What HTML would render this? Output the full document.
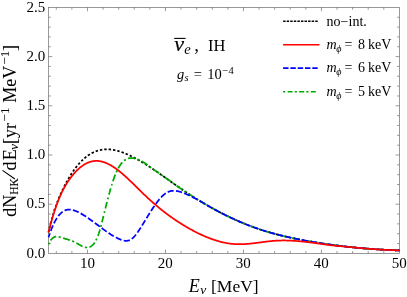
<!DOCTYPE html>
<html><head><meta charset="utf-8"><title>plot</title>
<style>
html,body{margin:0;padding:0;background:#fff;}
body{width:407px;height:297px;overflow:hidden;font-family:"Liberation Serif",serif;}
svg{display:block;}
text{font-family:"Liberation Serif",serif;fill:#000;}
.i{font-style:italic;}
</style></head><body>
<svg width="407" height="297" viewBox="0 0 407 297">
<rect width="407" height="297" fill="#fff"/>
<g fill="none" stroke="#6e6e6e" stroke-width="0.7">
<rect x="48.5" y="7.4" width="350.9" height="246.0"/>
<path d="M56.30 253.40 v-2.30 M56.30 7.40 v2.30"/><path d="M71.89 253.40 v-2.30 M71.89 7.40 v2.30"/><path d="M87.49 253.40 v-3.80 M87.49 7.40 v3.80"/><path d="M103.08 253.40 v-2.30 M103.08 7.40 v2.30"/><path d="M118.68 253.40 v-2.30 M118.68 7.40 v2.30"/><path d="M134.28 253.40 v-2.30 M134.28 7.40 v2.30"/><path d="M149.87 253.40 v-2.30 M149.87 7.40 v2.30"/><path d="M165.47 253.40 v-3.80 M165.47 7.40 v3.80"/><path d="M181.06 253.40 v-2.30 M181.06 7.40 v2.30"/><path d="M196.66 253.40 v-2.30 M196.66 7.40 v2.30"/><path d="M212.25 253.40 v-2.30 M212.25 7.40 v2.30"/><path d="M227.85 253.40 v-2.30 M227.85 7.40 v2.30"/><path d="M243.44 253.40 v-3.80 M243.44 7.40 v3.80"/><path d="M259.04 253.40 v-2.30 M259.04 7.40 v2.30"/><path d="M274.64 253.40 v-2.30 M274.64 7.40 v2.30"/><path d="M290.23 253.40 v-2.30 M290.23 7.40 v2.30"/><path d="M305.83 253.40 v-2.30 M305.83 7.40 v2.30"/><path d="M321.42 253.40 v-3.80 M321.42 7.40 v3.80"/><path d="M337.02 253.40 v-2.30 M337.02 7.40 v2.30"/><path d="M352.61 253.40 v-2.30 M352.61 7.40 v2.30"/><path d="M368.21 253.40 v-2.30 M368.21 7.40 v2.30"/><path d="M383.80 253.40 v-2.30 M383.80 7.40 v2.30"/><path d="M48.50 243.56 h2.30 M399.40 243.56 h-2.30"/><path d="M48.50 233.72 h2.30 M399.40 233.72 h-2.30"/><path d="M48.50 223.88 h2.30 M399.40 223.88 h-2.30"/><path d="M48.50 214.04 h2.30 M399.40 214.04 h-2.30"/><path d="M48.50 204.20 h3.80 M399.40 204.20 h-3.80"/><path d="M48.50 194.36 h2.30 M399.40 194.36 h-2.30"/><path d="M48.50 184.52 h2.30 M399.40 184.52 h-2.30"/><path d="M48.50 174.68 h2.30 M399.40 174.68 h-2.30"/><path d="M48.50 164.84 h2.30 M399.40 164.84 h-2.30"/><path d="M48.50 155.00 h3.80 M399.40 155.00 h-3.80"/><path d="M48.50 145.16 h2.30 M399.40 145.16 h-2.30"/><path d="M48.50 135.32 h2.30 M399.40 135.32 h-2.30"/><path d="M48.50 125.48 h2.30 M399.40 125.48 h-2.30"/><path d="M48.50 115.64 h2.30 M399.40 115.64 h-2.30"/><path d="M48.50 105.80 h3.80 M399.40 105.80 h-3.80"/><path d="M48.50 95.96 h2.30 M399.40 95.96 h-2.30"/><path d="M48.50 86.12 h2.30 M399.40 86.12 h-2.30"/><path d="M48.50 76.28 h2.30 M399.40 76.28 h-2.30"/><path d="M48.50 66.44 h2.30 M399.40 66.44 h-2.30"/><path d="M48.50 56.60 h3.80 M399.40 56.60 h-3.80"/><path d="M48.50 46.76 h2.30 M399.40 46.76 h-2.30"/><path d="M48.50 36.92 h2.30 M399.40 36.92 h-2.30"/><path d="M48.50 27.08 h2.30 M399.40 27.08 h-2.30"/><path d="M48.50 17.24 h2.30 M399.40 17.24 h-2.30"/>
</g>
<g fill="none" stroke-width="1.75" stroke-linejoin="round">
<path d="M48.50 232.40 L48.59 232.00 L48.68 231.60 L48.76 231.21 L48.85 230.81 L48.94 230.41 L49.03 230.02 M49.47 228.10 L49.55 227.72 L49.64 227.35 L49.73 226.98 L49.82 226.61 L49.90 226.24 L49.99 225.87 M50.52 223.72 L50.61 223.38 L50.69 223.03 L50.78 222.68 L50.87 222.34 L50.96 221.99 L51.04 221.65 M51.66 219.34 L51.75 219.02 L51.83 218.70 L51.92 218.37 L52.01 218.05 L52.10 217.74 L52.19 217.43 M52.80 215.29 L52.89 214.99 L52.98 214.69 L53.06 214.39 L53.15 214.10 L53.24 213.81 L53.33 213.52 L53.41 213.23 L53.50 212.94 M54.12 210.99 L54.20 210.71 L54.29 210.44 L54.38 210.17 L54.47 209.90 L54.55 209.63 L54.64 209.37 L54.73 209.10 L54.82 208.84 M55.52 206.78 L55.61 206.54 L55.70 206.29 L55.78 206.04 L55.87 205.79 L55.96 205.55 L56.05 205.30 L56.13 205.06 L56.22 204.82 M57.01 202.70 L57.10 202.47 L57.19 202.24 L57.27 202.02 L57.36 201.79 L57.45 201.56 L57.54 201.34 L57.63 201.12 L57.71 200.89 L57.80 200.67 M58.59 198.72 L58.68 198.51 L58.77 198.30 L58.85 198.09 L58.94 197.87 L59.03 197.66 L59.12 197.46 L59.21 197.25 L59.29 197.04 L59.38 196.84 L59.47 196.63 L59.56 196.42 M60.35 194.61 L60.43 194.41 L60.52 194.21 L60.61 194.01 L60.70 193.82 L60.78 193.62 L60.87 193.43 L60.96 193.23 L61.05 193.03 L61.14 192.84 L61.22 192.65 L61.31 192.46 M62.19 190.56 L62.28 190.37 L62.36 190.19 L62.45 190.00 L62.54 189.81 L62.63 189.63 L62.72 189.45 L62.80 189.26 L62.89 189.08 L62.98 188.90 L63.07 188.72 L63.15 188.54 M64.12 186.58 L64.21 186.41 L64.29 186.23 L64.38 186.06 L64.47 185.89 L64.56 185.71 L64.65 185.54 L64.73 185.37 L64.82 185.20 L64.91 185.03 L65.00 184.86 L65.08 184.69 L65.17 184.52 M66.14 182.70 L66.22 182.54 L66.31 182.38 L66.40 182.22 L66.49 182.06 L66.58 181.89 L66.66 181.73 L66.75 181.58 L66.84 181.42 L66.93 181.26 L67.01 181.10 L67.10 180.94 L67.19 180.79 L67.28 180.63 M68.24 178.94 L68.33 178.79 L68.42 178.64 L68.51 178.49 L68.59 178.34 L68.68 178.19 L68.77 178.04 L68.86 177.90 L68.95 177.75 L69.03 177.60 L69.12 177.45 L69.21 177.31 L69.30 177.16 L69.38 177.02 L69.47 176.87 M70.52 175.17 L70.61 175.03 L70.70 174.89 L70.79 174.76 L70.88 174.62 L70.96 174.48 L71.05 174.34 L71.14 174.21 L71.23 174.07 L71.31 173.94 L71.40 173.80 L71.49 173.67 L71.58 173.53 L71.67 173.40 L71.75 173.27 L71.84 173.14 M72.98 171.45 L73.07 171.32 L73.16 171.20 L73.24 171.07 L73.33 170.94 L73.42 170.82 L73.51 170.69 L73.60 170.57 L73.68 170.45 L73.77 170.32 L73.86 170.20 L73.95 170.08 L74.03 169.96 L74.12 169.83 L74.21 169.71 L74.30 169.59 M75.53 167.94 L75.61 167.83 L75.70 167.71 L75.79 167.60 L75.88 167.49 L75.96 167.37 L76.05 167.26 L76.14 167.15 L76.23 167.04 L76.32 166.93 L76.40 166.82 L76.49 166.70 L76.58 166.59 L76.67 166.48 L76.75 166.38 L76.84 166.27 L76.93 166.16 L77.02 166.05 M78.33 164.48 L78.42 164.37 L78.51 164.27 L78.60 164.17 L78.68 164.07 L78.77 163.97 L78.86 163.87 L78.95 163.77 L79.04 163.67 L79.12 163.57 L79.21 163.47 L79.30 163.38 L79.39 163.28 L79.47 163.18 L79.56 163.09 L79.65 162.99 L79.74 162.89 L79.83 162.80 L79.91 162.70 M81.32 161.23 L81.41 161.14 L81.49 161.06 L81.58 160.97 L81.67 160.88 L81.76 160.79 L81.84 160.71 L81.93 160.62 L82.02 160.53 L82.11 160.45 L82.19 160.36 L82.28 160.28 L82.37 160.19 L82.46 160.11 L82.55 160.03 L82.63 159.94 L82.72 159.86 L82.81 159.78 L82.90 159.69 L82.98 159.61 M84.48 158.28 L84.56 158.20 L84.65 158.12 L84.74 158.05 L84.83 157.98 L84.91 157.90 L85.00 157.83 L85.09 157.75 L85.18 157.68 L85.27 157.61 L85.35 157.54 L85.44 157.47 L85.53 157.39 L85.62 157.32 L85.70 157.25 L85.79 157.18 L85.88 157.11 L85.97 157.04 L86.06 156.97 L86.14 156.90 L86.23 156.83 L86.32 156.77 M87.99 155.54 L88.07 155.47 L88.16 155.41 L88.25 155.35 L88.34 155.29 L88.42 155.23 L88.51 155.17 L88.60 155.11 L88.69 155.05 L88.78 154.99 L88.86 154.94 L88.95 154.88 L89.04 154.82 L89.13 154.76 L89.21 154.71 L89.30 154.65 L89.39 154.59 L89.48 154.54 L89.57 154.48 L89.65 154.43 L89.74 154.37 L89.83 154.32 L89.92 154.26 M91.67 153.24 L91.85 153.15 L92.02 153.06 L92.20 152.96 L92.37 152.87 L92.55 152.78 L92.72 152.69 L92.90 152.61 L93.08 152.52 L93.25 152.44 L93.43 152.35 L93.60 152.27 L93.78 152.19 L93.87 152.15 M95.71 151.38 L95.88 151.31 L96.06 151.25 L96.23 151.18 L96.41 151.12 L96.59 151.06 L96.76 151.00 L96.94 150.94 L97.11 150.88 L97.29 150.82 L97.46 150.77 L97.64 150.71 L97.81 150.66 L97.99 150.61 M99.92 150.10 L100.10 150.06 L100.27 150.02 L100.45 149.99 L100.62 149.95 L100.80 149.91 L100.97 149.88 L101.15 149.85 L101.32 149.82 L101.50 149.79 L101.67 149.75 L101.85 149.73 L102.03 149.70 L102.20 149.67 L102.29 149.66 M104.22 149.44 L104.39 149.42 L104.57 149.41 L104.75 149.40 L104.92 149.39 L105.10 149.38 L105.27 149.37 L105.45 149.36 L105.62 149.35 L105.80 149.34 L105.97 149.34 L106.15 149.33 L106.33 149.33 L106.50 149.33 L106.68 149.33 M108.61 149.37 L108.78 149.37 L108.96 149.38 L109.13 149.39 L109.31 149.41 L109.48 149.42 L109.66 149.43 L109.84 149.45 L110.01 149.46 L110.19 149.48 L110.36 149.49 L110.54 149.51 L110.71 149.53 L110.89 149.55 L111.06 149.57 M112.99 149.84 L113.17 149.87 L113.34 149.90 L113.52 149.93 L113.70 149.96 L113.87 149.99 L114.05 150.03 L114.22 150.06 L114.40 150.09 L114.57 150.13 L114.75 150.16 L114.92 150.20 L115.10 150.24 L115.28 150.28 L115.36 150.30 M117.29 150.77 L117.47 150.81 L117.64 150.86 L117.82 150.91 L118.00 150.96 L118.17 151.01 L118.35 151.06 L118.52 151.11 L118.70 151.16 L118.87 151.21 L119.05 151.26 L119.22 151.31 L119.40 151.37 L119.58 151.42 M121.51 152.06 L121.68 152.12 L121.86 152.18 L122.03 152.24 L122.21 152.31 L122.38 152.37 L122.56 152.43 L122.73 152.50 L122.91 152.56 L123.08 152.63 L123.26 152.70 L123.44 152.76 L123.61 152.83 L123.79 152.90 M125.63 153.64 L125.81 153.71 L125.98 153.78 L126.16 153.86 L126.33 153.93 L126.51 154.01 L126.68 154.08 L126.86 154.16 L127.03 154.24 L127.21 154.31 L127.38 154.39 L127.56 154.47 L127.74 154.54 L127.82 154.58 M129.67 155.43 L129.84 155.51 L130.02 155.59 L130.19 155.68 L130.37 155.76 L130.54 155.85 L130.72 155.93 L130.89 156.01 L131.07 156.10 L131.25 156.19 L131.42 156.27 L131.60 156.36 L131.77 156.44 M133.61 157.38 L133.79 157.47 L133.97 157.56 L134.14 157.65 L134.32 157.74 L134.49 157.84 L134.67 157.93 L134.84 158.02 L135.02 158.11 L135.19 158.21 L135.37 158.30 L135.54 158.40 L135.72 158.49 M137.48 159.45 L137.65 159.55 L137.83 159.65 L138.00 159.75 L138.18 159.85 L138.35 159.95 L138.53 160.05 L138.70 160.15 L138.88 160.25 L139.05 160.35 L139.23 160.45 L139.41 160.55 L139.58 160.65 M141.25 161.62 L141.42 161.73 L141.60 161.83 L141.77 161.94 L141.95 162.04 L142.13 162.15 L142.30 162.25 L142.48 162.36 L142.65 162.47 L142.83 162.57 L143.00 162.68 L143.18 162.79 L143.35 162.89 M145.02 163.92 L145.11 163.98 L145.20 164.03 L145.28 164.09 L145.37 164.14 L145.46 164.20 L145.55 164.25 L145.64 164.31 L145.72 164.36 L145.81 164.42 L145.90 164.47 L145.99 164.53 L146.07 164.58 L146.16 164.64 L146.25 164.69 L146.34 164.75 L146.43 164.80 L146.51 164.86 L146.60 164.92 L146.69 164.97 L146.78 165.03 L146.86 165.08 L146.95 165.14 L147.04 165.19 M148.71 166.27 L148.79 166.32 L148.88 166.38 L148.97 166.44 L149.06 166.50 L149.15 166.55 L149.23 166.61 L149.32 166.67 L149.41 166.72 L149.50 166.78 L149.58 166.84 L149.67 166.90 L149.76 166.95 L149.85 167.01 L149.94 167.07 L150.02 167.13 L150.11 167.18 L150.20 167.24 L150.29 167.30 L150.37 167.36 L150.46 167.42 L150.55 167.47 L150.64 167.53 L150.73 167.59 M152.39 168.70 L152.48 168.76 L152.57 168.82 L152.66 168.88 L152.74 168.94 L152.83 168.99 L152.92 169.05 L153.01 169.11 L153.09 169.17 L153.18 169.23 L153.27 169.29 L153.36 169.35 L153.45 169.41 L153.53 169.47 L153.62 169.53 L153.71 169.59 L153.80 169.65 L153.88 169.71 L153.97 169.76 L154.06 169.82 L154.15 169.88 L154.24 169.94 L154.32 170.00 L154.41 170.06 M156.08 171.20 L156.17 171.26 L156.25 171.32 L156.34 171.38 L156.43 171.44 L156.52 171.50 L156.60 171.56 L156.69 171.63 L156.78 171.69 L156.87 171.75 L156.96 171.81 L157.04 171.87 L157.13 171.93 L157.22 171.99 L157.31 172.05 L157.39 172.11 L157.48 172.17 L157.57 172.23 L157.66 172.29 L157.74 172.35 L157.83 172.41 L157.92 172.48 L158.01 172.54 M159.68 173.70 L159.76 173.76 L159.85 173.82 L159.94 173.88 L160.03 173.94 L160.11 174.00 L160.20 174.07 L160.29 174.13 L160.38 174.19 L160.47 174.25 L160.55 174.31 L160.64 174.37 L160.73 174.44 L160.82 174.50 L160.90 174.56 L160.99 174.62 L161.08 174.68 L161.17 174.74 L161.25 174.81 L161.34 174.87 L161.43 174.93 L161.52 174.99 L161.61 175.05 M163.27 176.23 L163.36 176.29 L163.45 176.35 L163.54 176.42 L163.62 176.48 L163.71 176.54 L163.80 176.60 L163.89 176.66 L163.97 176.73 L164.06 176.79 L164.15 176.85 L164.24 176.91 L164.33 176.97 L164.41 177.04 L164.50 177.10 L164.59 177.16 L164.68 177.22 L164.76 177.29 L164.85 177.35 L164.94 177.41 L165.03 177.47 L165.12 177.53 L165.20 177.60 M166.87 178.78 L166.96 178.84 L167.05 178.91 L167.13 178.97 L167.22 179.03 L167.31 179.09 L167.40 179.16 L167.48 179.22 L167.57 179.28 L167.66 179.34 L167.75 179.41 L167.84 179.47 L167.92 179.53 L168.01 179.59 L168.10 179.66 L168.19 179.72 L168.27 179.78 L168.36 179.84 L168.45 179.91 L168.54 179.97 L168.63 180.03 L168.71 180.09 L168.80 180.15 M170.47 181.34 L170.56 181.40 L170.64 181.47 L170.73 181.53 L170.82 181.59 L170.91 181.65 L170.99 181.71 L171.08 181.78 L171.17 181.84 L171.26 181.90 L171.35 181.96 L171.43 182.03 L171.52 182.09 L171.61 182.15 L171.70 182.21 L171.78 182.28 L171.87 182.34 L171.96 182.40 L172.05 182.46 L172.14 182.52 L172.22 182.59 L172.31 182.65 L172.40 182.71 M174.07 183.89 L174.15 183.95 L174.24 184.01 L174.33 184.08 L174.42 184.14 L174.50 184.20 L174.59 184.26 L174.68 184.32 L174.77 184.39 L174.86 184.45 L174.94 184.51 L175.03 184.57 L175.12 184.63 L175.21 184.69 L175.29 184.76 L175.38 184.82 L175.47 184.88 L175.56 184.94 L175.65 185.00 L175.73 185.07 L175.82 185.13 L175.91 185.19 L176.00 185.25 M177.66 186.42 L177.75 186.48 L177.84 186.54 L177.93 186.60 L178.01 186.66 L178.10 186.72 L178.19 186.78 L178.28 186.84 L178.37 186.91 L178.45 186.97 L178.54 187.03 L178.63 187.09 L178.72 187.15 L178.80 187.21 L178.89 187.27 L178.98 187.33 L179.07 187.39 L179.16 187.45 L179.24 187.51 L179.33 187.58 L179.42 187.64 L179.51 187.70 L179.59 187.76 M181.26 188.90 L181.35 188.96 L181.44 189.02 L181.52 189.08 L181.61 189.14 L181.70 189.20 L181.79 189.26 L181.88 189.32 L181.96 189.38 L182.05 189.44 L182.14 189.50 L182.23 189.56 L182.31 189.62 L182.40 189.68 L182.49 189.74 L182.58 189.80 L182.67 189.86 L182.75 189.92 L182.84 189.98 L182.93 190.04 L183.02 190.10 L183.10 190.16 L183.19 190.22 M184.86 191.34 L184.95 191.40 L185.03 191.46 L185.12 191.52 L185.21 191.58 L185.30 191.64 L185.39 191.69 L185.47 191.75 L185.56 191.81 L185.65 191.87 L185.74 191.93 L185.82 191.99 L185.91 192.05 L186.00 192.10 L186.09 192.16 L186.17 192.22 L186.26 192.28 L186.35 192.34 L186.44 192.40 L186.53 192.45 L186.61 192.51 L186.70 192.57 L186.79 192.63 L186.88 192.69 M188.54 193.79 L188.63 193.84 L188.72 193.90 L188.81 193.96 L188.90 194.02 L188.98 194.07 L189.07 194.13 L189.16 194.19 L189.25 194.24 L189.33 194.30 L189.42 194.36 L189.51 194.42 L189.60 194.47 L189.68 194.53 L189.77 194.59 L189.86 194.65 L189.95 194.70 L190.04 194.76 L190.12 194.82 L190.21 194.87 L190.30 194.93 L190.39 194.99 L190.47 195.04 L190.56 195.10 M192.23 196.17 L192.32 196.23 L192.40 196.29 L192.49 196.34 L192.58 196.40 L192.67 196.45 L192.76 196.51 L192.84 196.57 L192.93 196.62 L193.02 196.68 L193.11 196.73 L193.19 196.79 L193.28 196.85 L193.37 196.90 L193.46 196.96 L193.55 197.01 L193.63 197.07 L193.72 197.12 L193.81 197.18 L193.90 197.24 L193.98 197.29 L194.07 197.35 L194.16 197.40 L194.25 197.46 M196.00 198.56 L196.09 198.62 L196.18 198.67 L196.27 198.73 L196.35 198.78 L196.44 198.84 L196.53 198.89 L196.62 198.94 L196.70 199.00 L196.79 199.05 L196.88 199.11 L196.97 199.16 L197.06 199.22 L197.14 199.27 L197.23 199.33 L197.32 199.38 L197.41 199.43 L197.49 199.49 L197.58 199.54 L197.67 199.60 L197.76 199.65 L197.85 199.71 L197.93 199.76 L198.02 199.81 M199.69 200.84 L199.86 200.94 L200.04 201.05 L200.21 201.16 L200.39 201.26 L200.57 201.37 L200.74 201.48 L200.92 201.58 L201.09 201.69 L201.27 201.79 L201.44 201.90 L201.62 202.01 L201.79 202.11 M203.46 203.11 L203.64 203.21 L203.81 203.31 L203.99 203.42 L204.16 203.52 L204.34 203.63 L204.51 203.73 L204.69 203.83 L204.87 203.93 L205.04 204.04 L205.22 204.14 L205.39 204.24 L205.57 204.35 M207.32 205.37 L207.41 205.42 L207.50 205.47 L207.59 205.52 L207.67 205.57 L207.76 205.62 L207.85 205.67 L207.94 205.72 L208.02 205.77 L208.11 205.82 L208.20 205.87 L208.29 205.92 L208.37 205.97 L208.46 206.02 L208.55 206.07 L208.64 206.12 L208.73 206.17 L208.81 206.22 L208.90 206.27 L208.99 206.32 L209.08 206.37 L209.16 206.42 L209.25 206.47 L209.34 206.52 M211.10 207.51 L211.27 207.61 L211.45 207.71 L211.62 207.81 L211.80 207.90 L211.97 208.00 L212.15 208.10 L212.32 208.20 L212.50 208.29 L212.67 208.39 L212.85 208.49 L213.03 208.59 L213.20 208.68 M214.96 209.64 L215.13 209.74 L215.31 209.83 L215.48 209.93 L215.66 210.02 L215.83 210.12 L216.01 210.21 L216.18 210.31 L216.36 210.40 L216.54 210.50 L216.71 210.59 L216.89 210.68 L217.06 210.78 M218.82 211.71 L218.99 211.80 L219.17 211.89 L219.34 211.99 L219.52 212.08 L219.69 212.17 L219.87 212.26 L220.05 212.35 L220.22 212.44 L220.40 212.53 L220.57 212.63 L220.75 212.72 L220.92 212.81 L221.01 212.85 M222.77 213.75 L222.94 213.84 L223.12 213.93 L223.29 214.02 L223.47 214.11 L223.64 214.20 L223.82 214.29 L223.99 214.37 L224.17 214.46 L224.34 214.55 L224.52 214.64 L224.70 214.73 L224.87 214.81 M226.71 215.72 L226.89 215.81 L227.07 215.90 L227.24 215.98 L227.42 216.07 L227.59 216.15 L227.77 216.24 L227.94 216.32 L228.12 216.41 L228.29 216.49 L228.47 216.58 L228.64 216.66 L228.82 216.75 M230.66 217.63 L230.84 217.71 L231.01 217.79 L231.19 217.87 L231.36 217.96 L231.54 218.04 L231.72 218.12 L231.89 218.20 L232.07 218.28 L232.24 218.37 L232.42 218.45 L232.59 218.53 L232.77 218.61 L232.86 218.65 M234.61 219.45 L234.79 219.53 L234.96 219.61 L235.14 219.69 L235.31 219.77 L235.49 219.85 L235.66 219.93 L235.84 220.01 L236.02 220.09 L236.19 220.17 L236.37 220.24 L236.54 220.32 L236.72 220.40 L236.80 220.44 M238.65 221.25 L238.82 221.32 L239.00 221.40 L239.17 221.48 L239.35 221.55 L239.53 221.63 L239.70 221.70 L239.88 221.78 L240.05 221.85 L240.23 221.93 L240.40 222.00 L240.58 222.08 L240.75 222.15 L240.84 222.19 M242.68 222.96 L242.86 223.04 L243.03 223.11 L243.21 223.18 L243.39 223.25 L243.56 223.33 L243.74 223.40 L243.91 223.47 L244.09 223.54 L244.26 223.61 L244.44 223.69 L244.61 223.76 L244.79 223.83 L244.97 223.90 M246.81 224.64 L246.98 224.71 L247.16 224.78 L247.33 224.84 L247.51 224.91 L247.69 224.98 L247.86 225.05 L248.04 225.12 L248.21 225.19 L248.39 225.26 L248.56 225.32 L248.74 225.39 L248.91 225.46 L249.00 225.49 M250.93 226.23 L251.11 226.29 L251.28 226.36 L251.46 226.42 L251.63 226.49 L251.81 226.55 L251.99 226.62 L252.16 226.68 L252.34 226.75 L252.51 226.81 L252.69 226.88 L252.86 226.94 L253.04 227.01 L253.13 227.04 M255.06 227.73 L255.23 227.79 L255.41 227.86 L255.58 227.92 L255.76 227.98 L255.93 228.04 L256.11 228.10 L256.28 228.16 L256.46 228.22 L256.64 228.29 L256.81 228.35 L256.99 228.41 L257.16 228.47 L257.34 228.53 M259.18 229.15 L259.36 229.21 L259.53 229.27 L259.71 229.33 L259.88 229.39 L260.06 229.44 L260.23 229.50 L260.41 229.56 L260.58 229.62 L260.76 229.68 L260.94 229.73 L261.11 229.79 L261.29 229.85 L261.46 229.90 M263.39 230.52 L263.57 230.58 L263.74 230.63 L263.92 230.69 L264.09 230.74 L264.27 230.80 L264.45 230.85 L264.62 230.90 L264.80 230.96 L264.97 231.01 L265.15 231.07 L265.32 231.12 L265.50 231.17 L265.67 231.23 M267.60 231.81 L267.78 231.86 L267.96 231.91 L268.13 231.96 L268.31 232.02 L268.48 232.07 L268.66 232.12 L268.83 232.17 L269.01 232.22 L269.18 232.27 L269.36 232.32 L269.53 232.37 L269.71 232.43 L269.89 232.48 M271.82 233.02 L271.99 233.07 L272.17 233.12 L272.34 233.17 L272.52 233.22 L272.69 233.27 L272.87 233.31 L273.04 233.36 L273.22 233.41 L273.40 233.46 L273.57 233.51 L273.75 233.56 L273.92 233.60 L274.10 233.65 M276.03 234.17 L276.20 234.21 L276.38 234.26 L276.55 234.30 L276.73 234.35 L276.91 234.40 L277.08 234.44 L277.26 234.49 L277.43 234.53 L277.61 234.58 L277.78 234.62 L277.96 234.67 L278.13 234.71 L278.31 234.76 L278.40 234.78 M280.33 235.27 L280.50 235.31 L280.68 235.35 L280.85 235.40 L281.03 235.44 L281.20 235.48 L281.38 235.53 L281.56 235.57 L281.73 235.61 L281.91 235.65 L282.08 235.70 L282.26 235.74 L282.43 235.78 L282.61 235.82 M284.63 236.30 L284.80 236.34 L284.98 236.39 L285.15 236.43 L285.33 236.47 L285.50 236.51 L285.68 236.55 L285.86 236.59 L286.03 236.63 L286.21 236.67 L286.38 236.71 L286.56 236.75 L286.73 236.79 L286.91 236.83 M288.84 237.26 L289.01 237.30 L289.19 237.34 L289.37 237.38 L289.54 237.42 L289.72 237.46 L289.89 237.49 L290.07 237.53 L290.24 237.57 L290.42 237.61 L290.59 237.65 L290.77 237.69 L290.94 237.72 L291.12 237.76 L291.21 237.78 M293.14 238.19 L293.31 238.23 L293.49 238.26 L293.66 238.30 L293.84 238.34 L294.02 238.37 L294.19 238.41 L294.37 238.45 L294.54 238.48 L294.72 238.52 L294.89 238.56 L295.07 238.59 L295.24 238.63 L295.42 238.66 L295.51 238.68 M297.53 239.09 L297.70 239.12 L297.88 239.16 L298.05 239.19 L298.23 239.23 L298.40 239.26 L298.58 239.30 L298.75 239.33 L298.93 239.37 L299.11 239.40 L299.28 239.44 L299.46 239.47 L299.63 239.50 L299.81 239.54 L299.89 239.55 M301.83 239.93 L302.00 239.96 L302.18 239.99 L302.35 240.03 L302.53 240.06 L302.70 240.09 L302.88 240.12 L303.05 240.16 L303.23 240.19 L303.40 240.22 L303.58 240.26 L303.76 240.29 L303.93 240.32 L304.11 240.35 L304.19 240.37 M306.13 240.73 L306.30 240.76 L306.48 240.79 L306.65 240.82 L306.83 240.85 L307.00 240.88 L307.18 240.92 L307.35 240.95 L307.53 240.98 L307.70 241.01 L307.88 241.04 L308.06 241.07 L308.23 241.10 L308.41 241.14 L308.49 241.15 M310.42 241.49 L310.60 241.52 L310.78 241.55 L310.95 241.58 L311.13 241.61 L311.30 241.64 L311.48 241.67 L311.65 241.70 L311.83 241.73 L312.00 241.76 L312.18 241.79 L312.36 241.82 L312.53 241.85 L312.71 241.88 L312.88 241.91 M314.81 242.24 L314.99 242.27 L315.16 242.30 L315.34 242.33 L315.51 242.36 L315.69 242.38 L315.86 242.41 L316.04 242.44 L316.22 242.47 L316.39 242.50 L316.57 242.53 L316.74 242.56 L316.92 242.59 L317.09 242.61 L317.18 242.63 M319.11 242.94 L319.29 242.97 L319.46 242.99 L319.64 243.02 L319.81 243.05 L319.99 243.08 L320.16 243.11 L320.34 243.13 L320.52 243.16 L320.69 243.19 L320.87 243.22 L321.04 243.24 L321.22 243.27 L321.39 243.30 L321.57 243.32 M323.50 243.62 L323.67 243.65 L323.85 243.67 L324.03 243.70 L324.20 243.73 L324.38 243.75 L324.55 243.78 L324.73 243.80 L324.90 243.83 L325.08 243.86 L325.25 243.88 L325.43 243.91 L325.60 243.93 L325.78 243.96 L325.87 243.97 M327.89 244.27 L328.06 244.29 L328.24 244.32 L328.41 244.34 L328.59 244.37 L328.76 244.39 L328.94 244.42 L329.11 244.44 L329.29 244.47 L329.47 244.49 L329.64 244.52 L329.82 244.54 L329.99 244.57 L330.17 244.59 L330.26 244.60 M332.19 244.87 L332.36 244.89 L332.54 244.92 L332.71 244.94 L332.89 244.97 L333.06 244.99 L333.24 245.01 L333.41 245.04 L333.59 245.06 L333.77 245.08 L333.94 245.11 L334.12 245.13 L334.29 245.15 L334.47 245.18 L334.56 245.19 M336.57 245.45 L336.75 245.47 L336.92 245.50 L337.10 245.52 L337.28 245.54 L337.45 245.56 L337.63 245.59 L337.80 245.61 L337.98 245.63 L338.15 245.65 L338.33 245.68 L338.50 245.70 L338.68 245.72 L338.85 245.74 L338.94 245.75 M340.96 246.00 L341.14 246.02 L341.31 246.04 L341.49 246.07 L341.66 246.09 L341.84 246.11 L342.01 246.13 L342.19 246.15 L342.36 246.17 L342.54 246.19 L342.72 246.21 L342.89 246.23 L343.07 246.25 L343.24 246.28 L343.33 246.29 M345.26 246.51 L345.44 246.53 L345.61 246.55 L345.79 246.57 L345.96 246.59 L346.14 246.61 L346.31 246.63 L346.49 246.65 L346.66 246.67 L346.84 246.69 L347.02 246.71 L347.19 246.73 L347.37 246.75 L347.54 246.77 L347.72 246.79 M349.65 247.00 L349.82 247.02 L350.00 247.03 L350.17 247.05 L350.35 247.07 L350.52 247.09 L350.70 247.11 L350.88 247.13 L351.05 247.15 L351.23 247.16 L351.40 247.18 L351.58 247.20 L351.75 247.22 L351.93 247.24 L352.10 247.26 M354.03 247.45 L354.21 247.47 L354.39 247.49 L354.56 247.50 L354.74 247.52 L354.91 247.54 L355.09 247.56 L355.26 247.57 L355.44 247.59 L355.61 247.61 L355.79 247.63 L355.97 247.64 L356.14 247.66 L356.32 247.68 L356.49 247.69 M358.42 247.88 L358.60 247.89 L358.77 247.91 L358.95 247.93 L359.12 247.94 L359.30 247.96 L359.48 247.97 L359.65 247.99 L359.83 248.01 L360.00 248.02 L360.18 248.04 L360.35 248.05 L360.53 248.07 L360.70 248.08 L360.79 248.09 M362.81 248.27 L362.99 248.28 L363.16 248.30 L363.34 248.32 L363.51 248.33 L363.69 248.34 L363.86 248.36 L364.04 248.37 L364.21 248.39 L364.39 248.40 L364.56 248.42 L364.74 248.43 L364.92 248.45 L365.09 248.46 L365.18 248.47 M367.20 248.63 L367.37 248.65 L367.55 248.66 L367.72 248.67 L367.90 248.69 L368.07 248.70 L368.25 248.72 L368.43 248.73 L368.60 248.74 L368.78 248.76 L368.95 248.77 L369.13 248.78 L369.30 248.80 L369.48 248.81 L369.57 248.82 M371.58 248.97 L371.76 248.98 L371.94 248.99 L372.11 249.00 L372.29 249.02 L372.46 249.03 L372.64 249.04 L372.81 249.05 L372.99 249.07 L373.16 249.08 L373.34 249.09 L373.51 249.10 L373.69 249.12 L373.87 249.13 L373.95 249.13 M375.97 249.27 L376.15 249.28 L376.32 249.29 L376.50 249.30 L376.67 249.32 L376.85 249.33 L377.02 249.34 L377.20 249.35 L377.38 249.36 L377.55 249.37 L377.73 249.38 L377.90 249.39 L378.08 249.40 L378.25 249.42 L378.34 249.42 M380.36 249.54 L380.53 249.55 L380.71 249.56 L380.89 249.57 L381.06 249.58 L381.24 249.59 L381.41 249.60 L381.59 249.61 L381.76 249.62 L381.94 249.63 L382.11 249.64 L382.29 249.65 L382.46 249.66 L382.64 249.67 L382.82 249.68 M384.75 249.79 L384.92 249.80 L385.10 249.81 L385.27 249.82 L385.45 249.82 L385.62 249.83 L385.80 249.84 L385.97 249.85 L386.15 249.86 L386.33 249.87 L386.50 249.88 L386.68 249.89 L386.85 249.90 L387.03 249.90 L387.20 249.91 M389.13 250.00 L389.31 250.01 L389.48 250.02 L389.66 250.03 L389.84 250.04 L390.01 250.04 L390.19 250.05 L390.36 250.06 L390.54 250.07 L390.71 250.08 L390.89 250.08 L391.06 250.09 L391.24 250.10 L391.42 250.11 L391.59 250.11 M393.52 250.19 L393.70 250.20 L393.87 250.21 L394.05 250.21 L394.22 250.22 L394.40 250.23 L394.57 250.23 L394.75 250.24 L394.92 250.25 L395.10 250.25 L395.28 250.26 L395.45 250.27 L395.63 250.27 L395.80 250.28 L395.98 250.28 M397.91 250.35 L398.00 250.35 L398.08 250.36 L398.17 250.36 L398.26 250.36 L398.35 250.37 L398.43 250.37 L398.52 250.37 L398.61 250.37 L398.70 250.38 L398.79 250.38 L398.87 250.38 L398.96 250.39 L399.05 250.39 L399.14 250.39 L399.22 250.39 L399.31 250.40 L399.40 250.40" stroke="#000"/>
<path d="M48.50 244.30 L48.59 244.11 L48.68 243.92 L48.76 243.74 L48.85 243.55 L48.94 243.36 L49.03 243.18 L49.11 243.01 L49.20 242.84 L49.29 242.67 M50.61 240.43 L51.04 239.82 L51.48 239.27 L51.92 238.78 L52.36 238.35 L52.80 237.98 L53.24 237.65 L53.68 237.37 L54.12 237.13 L54.55 236.94 L54.99 236.79 L55.43 236.68 L55.87 236.60 L56.22 236.57 M58.68 236.78 L58.77 236.80 L58.85 236.82 L58.94 236.84 L59.03 236.86 L59.12 236.88 L59.21 236.91 L59.29 236.93 L59.38 236.95 L59.47 236.98 L59.56 237.00 L59.64 237.03 L59.73 237.05 L59.82 237.08 L59.91 237.10 L59.99 237.13 L60.08 237.16 L60.17 237.18 L60.26 237.21 L60.35 237.24 L60.43 237.27 L60.52 237.29 L60.61 237.32 L60.70 237.35 M63.07 238.12 L63.59 238.28 L64.12 238.43 L64.65 238.59 L65.17 238.74 L65.70 238.89 L66.22 239.04 L66.75 239.19 L67.28 239.35 L67.80 239.50 L68.33 239.66 L68.86 239.82 L69.38 239.99 L69.91 240.16 M72.19 240.98 L72.28 241.02 L72.37 241.05 L72.45 241.09 L72.54 241.12 L72.63 241.16 L72.72 241.20 L72.81 241.23 L72.89 241.27 L72.98 241.31 L73.07 241.34 L73.16 241.38 L73.24 241.42 L73.33 241.46 L73.42 241.50 L73.51 241.53 L73.60 241.57 L73.68 241.61 L73.77 241.65 L73.86 241.69 L73.95 241.73 L74.03 241.77 L74.12 241.81 M76.40 243.00 L76.84 243.25 L77.28 243.51 L77.72 243.76 L78.16 244.02 L78.60 244.28 L79.04 244.54 L79.47 244.79 L79.91 245.04 L80.35 245.29 L80.79 245.53 L81.23 245.76 L81.67 245.99 L82.11 246.20 L82.55 246.40 M84.91 247.24 L85.09 247.29 L85.27 247.33 L85.44 247.36 L85.62 247.40 L85.79 247.42 L85.97 247.45 L86.14 247.47 L86.32 247.49 L86.49 247.50 L86.67 247.52 L86.85 247.52 L87.02 247.52 M89.48 247.09 L89.83 246.95 L90.18 246.79 L90.53 246.61 L90.88 246.40 L91.23 246.17 L91.58 245.91 L91.93 245.63 L92.29 245.33 L92.64 245.00 L92.99 244.64 L93.34 244.25 L93.69 243.84 L94.04 243.39 L94.39 242.91 L94.65 242.54 M95.97 240.33 L96.06 240.16 L96.15 240.00 L96.23 239.83 L96.32 239.65 L96.41 239.47 L96.50 239.29 L96.59 239.10 L96.67 238.92 L96.76 238.73 L96.85 238.53 M97.90 235.99 L98.08 235.52 L98.25 235.04 L98.43 234.53 L98.60 234.03 L98.78 233.51 L98.95 232.96 L99.13 232.42 L99.31 231.85 L99.48 231.27 L99.66 230.70 L99.83 230.09 L100.01 229.48 M100.71 226.97 L100.80 226.64 L100.88 226.31 L100.97 225.98 L101.06 225.65 L101.15 225.32 L101.24 224.99 M101.94 222.26 L102.03 221.91 L102.11 221.57 L102.20 221.22 L102.29 220.87 L102.38 220.52 L102.46 220.17 L102.55 219.82 L102.64 219.46 L102.73 219.11 L102.82 218.76 L102.90 218.40 L102.99 218.05 L103.08 217.69 L103.17 217.34 L103.25 216.98 L103.34 216.63 L103.43 216.27 L103.52 215.92 M104.22 213.07 L104.31 212.72 L104.39 212.36 L104.48 212.01 L104.57 211.65 L104.66 211.30 M105.36 208.48 L105.45 208.13 L105.54 207.78 L105.62 207.42 L105.71 207.07 L105.80 206.72 L105.89 206.37 L105.97 206.03 L106.06 205.68 L106.15 205.33 L106.24 204.98 L106.33 204.63 L106.41 204.29 L106.50 203.94 L106.59 203.60 L106.68 203.25 L106.76 202.91 L106.85 202.56 L106.94 202.22 L107.03 201.88 M107.73 199.16 L107.82 198.83 L107.90 198.49 L107.99 198.16 L108.08 197.83 L108.17 197.49 M108.87 194.86 L108.96 194.54 L109.05 194.22 L109.13 193.89 L109.22 193.57 L109.31 193.25 L109.40 192.93 L109.48 192.61 L109.57 192.29 L109.66 191.98 L109.75 191.66 L109.84 191.35 L109.92 191.04 L110.01 190.72 L110.10 190.41 L110.19 190.10 L110.27 189.79 L110.36 189.49 L110.45 189.18 L110.54 188.88 L110.62 188.57 L110.71 188.27 M111.50 185.61 L111.59 185.32 L111.68 185.03 L111.77 184.74 L111.85 184.46 L111.94 184.18 L112.03 183.90 M112.91 181.17 L113.08 180.65 L113.26 180.12 L113.43 179.61 L113.61 179.11 L113.78 178.60 L113.96 178.12 L114.13 177.63 L114.31 177.15 L114.49 176.69 L114.66 176.22 L114.84 175.76 L115.01 175.32 L115.19 174.88 L115.28 174.65 M116.24 172.37 L116.33 172.18 L116.42 171.98 L116.50 171.79 L116.59 171.60 L116.68 171.41 L116.77 171.21 L116.85 171.03 L116.94 170.85 L117.03 170.66 L117.12 170.48 M118.26 168.25 L118.52 167.78 L118.79 167.31 L119.05 166.87 L119.31 166.43 L119.58 166.01 L119.84 165.60 L120.10 165.20 L120.36 164.82 L120.63 164.45 L120.89 164.09 L121.15 163.74 L121.42 163.41 L121.68 163.09 L121.94 162.78 L122.21 162.48 L122.30 162.38 M124.05 160.70 L124.14 160.63 L124.23 160.56 L124.31 160.48 L124.40 160.42 L124.49 160.35 L124.58 160.29 L124.66 160.22 L124.75 160.15 L124.84 160.09 L124.93 160.03 L125.02 159.97 L125.10 159.91 L125.19 159.85 L125.28 159.79 L125.37 159.74 L125.45 159.68 L125.54 159.63 L125.63 159.58 L125.72 159.52 L125.81 159.47 M128.09 158.48 L128.61 158.34 L129.14 158.22 L129.67 158.14 L130.19 158.08 L130.72 158.05 L131.25 158.04 L131.77 158.06 L132.30 158.09 L132.82 158.15 L133.35 158.23 L133.88 158.32 L134.40 158.43 L134.93 158.56 L135.11 158.60 M137.48 159.34 L137.56 159.37 L137.65 159.40 L137.74 159.44 L137.83 159.47 L137.91 159.50 L138.00 159.53 L138.09 159.57 L138.18 159.60 L138.27 159.64 L138.35 159.67 L138.44 159.70 L138.53 159.74 L138.62 159.77 L138.70 159.81 L138.79 159.84 L138.88 159.88 L138.97 159.92 L139.05 159.95 L139.14 159.99 L139.23 160.03 L139.32 160.06 L139.41 160.10 M141.69 161.19 L142.13 161.43 L142.56 161.68 L143.00 161.94 L143.44 162.21 L143.88 162.49 L144.32 162.78 L144.76 163.08 L145.20 163.38 L145.64 163.69 L146.07 164.00 L146.51 164.32 L146.95 164.65 L147.39 164.97 L147.57 165.10 M149.58 166.62 L149.67 166.68 L149.76 166.75 L149.85 166.81 L149.94 166.88 L150.02 166.95 L150.11 167.01 L150.20 167.08 L150.29 167.14 L150.37 167.21 L150.46 167.27 L150.55 167.34 L150.64 167.40 L150.73 167.46 L150.81 167.53 L150.90 167.59 L150.99 167.66 L151.08 167.72 L151.16 167.79 L151.25 167.85 M153.27 169.28 L153.71 169.59 L154.15 169.88 L154.59 170.18 L155.02 170.48 L155.46 170.78 L155.90 171.08 L156.34 171.38 L156.78 171.69 L157.22 171.99 L157.66 172.29 L158.10 172.60 L158.53 172.90 L158.97 173.21 L159.15 173.33 M161.17 174.74 L161.25 174.81 L161.34 174.87 L161.43 174.93 L161.52 174.99 L161.61 175.05 L161.69 175.11 L161.78 175.18 L161.87 175.24 L161.96 175.30 L162.04 175.36 L162.13 175.42 L162.22 175.49 L162.31 175.55 L162.40 175.61 L162.48 175.67 L162.57 175.73 L162.66 175.79 L162.75 175.86 L162.83 175.92 L162.92 175.98 M164.94 177.41 L165.38 177.72 L165.82 178.03 L166.26 178.34 L166.70 178.66 L167.13 178.97 L167.57 179.28 L168.01 179.59 L168.45 179.91 L168.89 180.22 L169.33 180.53 L169.77 180.84 L170.21 181.15 L170.64 181.47 L170.73 181.53 M172.75 182.96 L172.84 183.02 L172.93 183.08 L173.01 183.15 L173.10 183.21 L173.19 183.27 L173.28 183.33 L173.36 183.39 L173.45 183.46 L173.54 183.52 L173.63 183.58 L173.71 183.64 L173.80 183.70 L173.89 183.77 L173.98 183.83 L174.07 183.89 L174.15 183.95 L174.24 184.01 L174.33 184.08 L174.42 184.14 L174.50 184.20 M176.52 185.62 L176.96 185.93 L177.40 186.23 L177.84 186.54 L178.28 186.84 L178.72 187.15 L179.16 187.45 L179.59 187.76 L180.03 188.06 L180.47 188.36 L180.91 188.66 L181.35 188.96 L181.79 189.26 L182.23 189.56 L182.40 189.68 M184.42 191.05 L184.51 191.11 L184.60 191.17 L184.68 191.22 L184.77 191.28 L184.86 191.34 L184.95 191.40 L185.03 191.46 L185.12 191.52 L185.21 191.58 L185.30 191.64 L185.39 191.69 L185.47 191.75 L185.56 191.81 L185.65 191.87 L185.74 191.93 L185.82 191.99 L185.91 192.05 L186.00 192.10 L186.09 192.16 L186.17 192.22 M188.28 193.61 L188.72 193.90 L189.16 194.19 L189.60 194.47 L190.04 194.76 L190.47 195.04 L190.91 195.33 L191.35 195.61 L191.79 195.89 L192.23 196.17 L192.67 196.45 L193.11 196.73 L193.55 197.01 L193.98 197.29 L194.25 197.46 M196.35 198.78 L196.44 198.84 L196.53 198.89 L196.62 198.94 L196.70 199.00 L196.79 199.05 L196.88 199.11 L196.97 199.16 L197.06 199.22 L197.14 199.27 L197.23 199.33 L197.32 199.38 L197.41 199.43 L197.49 199.49 L197.58 199.54 L197.67 199.60 L197.76 199.65 L197.85 199.71 L197.93 199.76 L198.02 199.81 L198.11 199.87 L198.20 199.92 M200.30 201.21 L200.74 201.48 L201.18 201.74 L201.62 202.01 L202.06 202.27 L202.50 202.53 L202.93 202.79 L203.37 203.05 L203.81 203.31 L204.25 203.57 L204.69 203.83 L205.13 204.09 L205.57 204.35 L206.01 204.60 L206.36 204.81 M208.55 206.07 L208.64 206.12 L208.73 206.17 L208.81 206.22 L208.90 206.27 L208.99 206.32 L209.08 206.37 L209.16 206.42 L209.25 206.47 L209.34 206.52 L209.43 206.57 L209.52 206.62 L209.60 206.67 L209.69 206.72 L209.78 206.77 L209.87 206.82 L209.95 206.87 L210.04 206.92 L210.13 206.97 L210.22 207.02 L210.31 207.07 L210.39 207.12 M212.59 208.34 L213.03 208.59 L213.46 208.83 L213.90 209.07 L214.34 209.31 L214.78 209.55 L215.22 209.79 L215.66 210.02 L216.10 210.26 L216.54 210.50 L216.97 210.73 L217.41 210.97 L217.85 211.20 L218.29 211.43 L218.73 211.66 L218.82 211.71 M221.01 212.85 L221.10 212.90 L221.19 212.94 L221.27 212.99 L221.36 213.03 L221.45 213.08 L221.54 213.12 L221.62 213.17 L221.71 213.21 L221.80 213.26 L221.89 213.30 L221.98 213.35 L222.06 213.39 L222.15 213.44 L222.24 213.48 L222.33 213.53 L222.41 213.57 L222.50 213.62 L222.59 213.66 L222.68 213.71 L222.77 213.75 L222.85 213.80 L222.94 213.84 M225.13 214.94 L225.66 215.21 L226.19 215.47 L226.71 215.72 L227.24 215.98 L227.77 216.24 L228.29 216.49 L228.82 216.75 L229.35 217.00 L229.87 217.25 L230.40 217.50 L230.93 217.75 L231.45 218.00 L231.54 218.04 M233.82 219.09 L233.91 219.13 L234.00 219.17 L234.08 219.22 L234.17 219.26 L234.26 219.30 L234.35 219.34 L234.44 219.37 L234.52 219.41 L234.61 219.45 L234.70 219.49 L234.79 219.53 L234.87 219.57 L234.96 219.61 L235.05 219.65 L235.14 219.69 L235.23 219.73 L235.31 219.77 L235.40 219.81 L235.49 219.85 L235.58 219.89 L235.66 219.93 L235.75 219.97 M238.03 220.98 L238.56 221.21 L239.09 221.44 L239.61 221.67 L240.14 221.89 L240.67 222.12 L241.19 222.34 L241.72 222.56 L242.25 222.78 L242.77 223.00 L243.30 223.22 L243.82 223.44 L244.35 223.65 L244.53 223.72 M246.81 224.64 L246.90 224.67 L246.98 224.71 L247.07 224.74 L247.16 224.78 L247.25 224.81 L247.33 224.84 L247.42 224.88 L247.51 224.91 L247.60 224.95 L247.69 224.98 L247.77 225.02 L247.86 225.05 L247.95 225.08 L248.04 225.12 L248.12 225.15 L248.21 225.19 L248.30 225.22 L248.39 225.26 L248.48 225.29 L248.56 225.32 L248.65 225.36 L248.74 225.39 L248.83 225.42 M251.11 226.29 L251.63 226.49 L252.16 226.68 L252.69 226.88 L253.21 227.07 L253.74 227.26 L254.27 227.45 L254.79 227.64 L255.32 227.82 L255.85 228.01 L256.37 228.19 L256.90 228.38 L257.43 228.56 L257.86 228.71 M260.23 229.50 L260.32 229.53 L260.41 229.56 L260.50 229.59 L260.58 229.62 L260.67 229.65 L260.76 229.68 L260.85 229.70 L260.94 229.73 L261.02 229.76 L261.11 229.79 L261.20 229.82 L261.29 229.85 L261.37 229.88 L261.46 229.90 L261.55 229.93 L261.64 229.96 L261.73 229.99 L261.81 230.02 L261.90 230.05 L261.99 230.07 L262.08 230.10 L262.16 230.13 M264.62 230.90 L265.15 231.07 L265.67 231.23 L266.20 231.39 L266.73 231.55 L267.25 231.70 L267.78 231.86 L268.31 232.02 L268.83 232.17 L269.36 232.32 L269.89 232.48 L270.41 232.63 L270.94 232.78 L271.38 232.90 M273.83 233.58 L273.92 233.60 L274.01 233.63 L274.10 233.65 L274.19 233.67 L274.27 233.70 L274.36 233.72 L274.45 233.75 L274.54 233.77 L274.62 233.79 L274.71 233.82 L274.80 233.84 L274.89 233.86 L274.97 233.89 L275.06 233.91 L275.15 233.93 L275.24 233.96 L275.33 233.98 L275.41 234.00 L275.50 234.03 L275.59 234.05 L275.68 234.07 L275.76 234.10 L275.85 234.12 M278.22 234.74 L278.75 234.87 L279.27 235.00 L279.80 235.13 L280.33 235.27 L280.85 235.40 L281.38 235.53 L281.91 235.65 L282.43 235.78 L282.96 235.91 L283.49 236.03 L284.01 236.16 L284.54 236.28 L285.07 236.41 L285.15 236.43 M287.61 236.99 L287.70 237.01 L287.79 237.03 L287.87 237.05 L287.96 237.07 L288.05 237.09 L288.14 237.11 L288.22 237.13 L288.31 237.15 L288.40 237.17 L288.49 237.19 L288.58 237.20 L288.66 237.22 L288.75 237.24 L288.84 237.26 L288.93 237.28 L289.01 237.30 L289.10 237.32 L289.19 237.34 L289.28 237.36 L289.37 237.38 L289.45 237.40 L289.54 237.42 L289.63 237.44 M292.09 237.97 L292.61 238.08 L293.14 238.19 L293.66 238.30 L294.19 238.41 L294.72 238.52 L295.24 238.63 L295.77 238.74 L296.30 238.84 L296.82 238.95 L297.35 239.05 L297.88 239.16 L298.40 239.26 L298.93 239.37 L299.02 239.38 M301.47 239.86 L301.65 239.89 L301.83 239.93 L302.00 239.96 L302.18 239.99 L302.35 240.03 L302.53 240.06 L302.70 240.09 L302.88 240.12 L303.05 240.16 L303.23 240.19 L303.40 240.22 L303.58 240.26 M306.04 240.71 L306.56 240.81 L307.09 240.90 L307.62 241.00 L308.14 241.09 L308.67 241.18 L309.20 241.28 L309.72 241.37 L310.25 241.46 L310.78 241.55 L311.30 241.64 L311.83 241.73 L312.36 241.82 L312.88 241.91 L312.97 241.93 M315.43 242.34 L315.60 242.37 L315.78 242.40 L315.95 242.43 L316.13 242.46 L316.30 242.49 L316.48 242.51 L316.65 242.54 L316.83 242.57 L317.01 242.60 L317.18 242.63 L317.36 242.66 L317.53 242.69 M319.99 243.08 L320.52 243.16 L321.04 243.24 L321.57 243.32 L322.09 243.41 L322.62 243.49 L323.15 243.57 L323.67 243.65 L324.20 243.73 L324.73 243.80 L325.25 243.88 L325.78 243.96 L326.31 244.04 L326.83 244.12 L327.01 244.14 M329.47 244.49 L329.64 244.52 L329.82 244.54 L329.99 244.57 L330.17 244.59 L330.34 244.62 L330.52 244.64 L330.69 244.66 L330.87 244.69 L331.05 244.71 L331.22 244.74 L331.40 244.76 L331.57 244.79 M334.03 245.12 L334.56 245.19 L335.08 245.26 L335.61 245.33 L336.13 245.40 L336.66 245.46 L337.19 245.53 L337.71 245.60 L338.24 245.66 L338.77 245.73 L339.29 245.80 L339.82 245.86 L340.35 245.93 L340.87 245.99 L341.14 246.02 M343.59 246.32 L343.77 246.34 L343.94 246.36 L344.12 246.38 L344.29 246.40 L344.47 246.42 L344.65 246.44 L344.82 246.46 L345.00 246.48 L345.17 246.50 L345.35 246.52 L345.52 246.54 L345.70 246.56 M348.16 246.83 L348.68 246.89 L349.21 246.95 L349.74 247.01 L350.26 247.06 L350.79 247.12 L351.31 247.17 L351.84 247.23 L352.37 247.28 L352.89 247.34 L353.42 247.39 L353.95 247.44 L354.47 247.50 L355.00 247.55 L355.26 247.57 M357.72 247.81 L357.90 247.83 L358.07 247.84 L358.25 247.86 L358.42 247.88 L358.60 247.89 L358.77 247.91 L358.95 247.93 L359.12 247.94 L359.30 247.96 L359.48 247.97 L359.65 247.99 L359.83 248.01 M362.28 248.22 L362.81 248.27 L363.34 248.32 L363.86 248.36 L364.39 248.40 L364.92 248.45 L365.44 248.49 L365.97 248.53 L366.49 248.58 L367.02 248.62 L367.55 248.66 L368.07 248.70 L368.60 248.74 L369.13 248.78 L369.39 248.80 M371.85 248.99 L372.02 249.00 L372.20 249.01 L372.37 249.02 L372.55 249.04 L372.72 249.05 L372.90 249.06 L373.08 249.07 L373.25 249.08 L373.43 249.10 L373.60 249.11 L373.78 249.12 L373.95 249.13 M376.41 249.30 L376.94 249.33 L377.46 249.37 L377.99 249.40 L378.52 249.43 L379.04 249.46 L379.57 249.50 L380.10 249.53 L380.62 249.56 L381.15 249.59 L381.68 249.62 L382.20 249.65 L382.73 249.68 L383.25 249.71 L383.52 249.72 M386.06 249.86 L386.24 249.86 L386.41 249.87 L386.59 249.88 L386.76 249.89 L386.94 249.90 L387.12 249.91 L387.29 249.92 L387.47 249.93 L387.64 249.93 L387.82 249.94 L387.99 249.95 L388.17 249.96 M390.63 250.07 L391.15 250.09 L391.68 250.12 L392.20 250.14 L392.73 250.16 L393.26 250.18 L393.78 250.20 L394.31 250.22 L394.84 250.24 L395.36 250.26 L395.89 250.28 L396.42 250.30 L396.94 250.32 L397.47 250.34 L397.73 250.35" stroke="#00aa00"/>
<path d="M48.50 237.40 L48.59 237.13 L48.68 236.86 L48.76 236.59 L48.85 236.32 L48.94 236.05 L49.03 235.78 L49.11 235.52 L49.20 235.26 L49.29 234.99 L49.38 234.73 L49.47 234.47 L49.55 234.22 L49.64 233.96 L49.73 233.71 L49.82 233.46 M50.69 231.03 L50.87 230.57 L51.04 230.10 L51.22 229.65 L51.40 229.20 L51.57 228.76 L51.75 228.33 L51.92 227.89 L52.10 227.47 L52.27 227.06 L52.45 226.64 L52.62 226.24 L52.80 225.84 L52.98 225.44 M53.94 223.38 L54.12 223.02 L54.29 222.67 L54.47 222.32 L54.64 221.98 L54.82 221.65 L54.99 221.32 L55.17 221.00 L55.34 220.68 L55.52 220.36 L55.70 220.06 L55.87 219.76 L56.05 219.45 L56.22 219.17 L56.40 218.88 L56.57 218.59 L56.75 218.32 L56.92 218.05 M58.33 216.06 L58.68 215.60 L59.03 215.17 L59.38 214.76 L59.73 214.37 L60.08 213.99 L60.43 213.63 L60.78 213.29 L61.14 212.96 L61.49 212.65 L61.84 212.36 L62.19 212.09 L62.54 211.82 L62.63 211.76 M64.65 210.59 L65.08 210.40 L65.52 210.23 L65.96 210.08 L66.40 209.95 L66.84 209.84 L67.28 209.75 L67.72 209.67 L68.16 209.62 L68.59 209.58 L69.03 209.56 L69.47 209.56 L69.91 209.57 L70.35 209.60 L70.70 209.63 M72.98 210.06 L73.42 210.18 L73.86 210.31 L74.30 210.45 L74.74 210.61 L75.18 210.77 L75.61 210.94 L76.05 211.11 L76.49 211.30 L76.93 211.49 L77.37 211.69 L77.81 211.90 L78.25 212.11 L78.68 212.33 M80.70 213.39 L81.14 213.63 L81.58 213.88 L82.02 214.13 L82.46 214.39 L82.90 214.65 L83.34 214.92 L83.77 215.19 L84.21 215.46 L84.65 215.74 L85.09 216.02 L85.53 216.30 L85.97 216.59 L86.06 216.64 M87.99 217.95 L88.34 218.19 L88.69 218.43 L89.04 218.68 L89.39 218.92 L89.74 219.17 L90.09 219.42 L90.44 219.67 L90.79 219.93 L91.15 220.18 L91.50 220.43 L91.85 220.69 L92.20 220.95 L92.55 221.20 L92.90 221.46 L92.99 221.53 M94.83 222.90 L95.18 223.16 L95.53 223.42 L95.88 223.69 L96.23 223.95 L96.59 224.22 L96.94 224.48 L97.29 224.75 L97.64 225.01 L97.99 225.28 L98.34 225.54 L98.69 225.81 L99.04 226.07 L99.39 226.34 L99.74 226.60 M101.67 228.04 L102.03 228.30 L102.38 228.57 L102.73 228.82 L103.08 229.08 L103.43 229.34 L103.78 229.60 L104.13 229.85 L104.48 230.11 L104.83 230.36 L105.18 230.61 L105.54 230.86 L105.89 231.11 L106.24 231.36 L106.59 231.61 L106.68 231.67 M108.52 232.93 L108.96 233.23 L109.40 233.52 L109.84 233.81 L110.27 234.09 L110.71 234.38 L111.15 234.65 L111.59 234.93 L112.03 235.20 L112.47 235.46 L112.91 235.73 L113.34 235.99 L113.78 236.24 M115.80 237.36 L116.24 237.59 L116.68 237.81 L117.12 238.03 L117.56 238.24 L118.00 238.45 L118.43 238.65 L118.87 238.85 L119.31 239.04 L119.75 239.23 L120.19 239.41 L120.63 239.58 L121.07 239.75 L121.51 239.90 M123.70 240.53 L124.14 240.62 L124.58 240.69 L125.02 240.75 L125.45 240.79 L125.89 240.81 L126.33 240.81 L126.77 240.79 L127.21 240.75 L127.65 240.68 L128.09 240.60 L128.53 240.49 L128.96 240.35 L129.40 240.19 L129.75 240.05 M131.68 238.90 L132.04 238.63 L132.39 238.34 L132.74 238.04 L133.09 237.71 L133.44 237.38 L133.79 237.02 L134.14 236.65 L134.49 236.27 L134.84 235.87 L135.19 235.46 L135.54 235.03 L135.90 234.60 L135.98 234.49 M137.39 232.62 L137.65 232.25 L137.91 231.88 L138.18 231.50 L138.44 231.11 L138.70 230.72 L138.97 230.33 L139.23 229.94 L139.49 229.54 L139.76 229.14 L140.02 228.73 L140.28 228.32 L140.55 227.91 L140.81 227.49 M142.04 225.53 L142.30 225.11 L142.56 224.68 L142.83 224.26 L143.09 223.83 L143.35 223.40 L143.62 222.97 L143.88 222.55 L144.14 222.12 L144.41 221.69 L144.67 221.25 L144.93 220.82 L145.20 220.39 L145.28 220.25 M146.51 218.24 L146.78 217.81 L147.04 217.38 L147.30 216.95 L147.57 216.52 L147.83 216.10 L148.09 215.67 L148.36 215.24 L148.62 214.82 L148.88 214.39 L149.15 213.97 L149.41 213.55 L149.67 213.13 L149.76 212.99 M150.99 211.05 L151.25 210.64 L151.51 210.23 L151.78 209.82 L152.04 209.41 L152.30 209.01 L152.57 208.61 L152.83 208.21 L153.09 207.82 L153.36 207.42 L153.62 207.03 L153.88 206.64 L154.15 206.26 L154.41 205.87 M155.73 204.00 L155.99 203.64 L156.25 203.28 L156.52 202.92 L156.78 202.57 L157.04 202.22 L157.31 201.87 L157.57 201.53 L157.83 201.19 L158.10 200.85 L158.36 200.52 L158.62 200.20 L158.89 199.87 L159.15 199.56 L159.41 199.24 L159.50 199.14 M161.08 197.36 L161.43 196.99 L161.78 196.63 L162.13 196.28 L162.48 195.94 L162.83 195.61 L163.19 195.28 L163.54 194.97 L163.89 194.67 L164.24 194.38 L164.59 194.10 L164.94 193.83 L165.29 193.57 L165.64 193.32 L165.73 193.26 M167.66 192.13 L168.10 191.93 L168.54 191.74 L168.98 191.57 L169.42 191.42 L169.85 191.28 L170.29 191.16 L170.73 191.06 L171.17 190.97 L171.61 190.90 L172.05 190.84 L172.49 190.79 L172.93 190.76 L173.36 190.75 L173.71 190.74 M176.00 190.90 L176.44 190.96 L176.87 191.03 L177.31 191.11 L177.75 191.20 L178.19 191.30 L178.63 191.41 L179.07 191.52 L179.51 191.64 L179.94 191.77 L180.38 191.90 L180.82 192.04 L181.26 192.19 L181.70 192.34 L181.96 192.43 M184.16 193.24 L184.60 193.41 L185.03 193.59 L185.47 193.77 L185.91 193.96 L186.35 194.14 L186.79 194.33 L187.23 194.53 L187.67 194.72 L188.11 194.92 L188.54 195.12 L188.98 195.32 L189.42 195.53 L189.77 195.70 M191.88 196.73 L192.32 196.95 L192.76 197.17 L193.19 197.40 L193.63 197.62 L194.07 197.85 L194.51 198.08 L194.95 198.31 L195.39 198.54 L195.83 198.78 L196.27 199.01 L196.70 199.25 L197.14 199.48 L197.41 199.62 M199.42 200.72 L199.86 200.97 L200.30 201.21 L200.74 201.46 L201.18 201.71 L201.62 201.96 L202.06 202.21 L202.50 202.46 L202.93 202.72 L203.37 202.98 L203.81 203.24 L204.25 203.49 L204.69 203.75 L204.78 203.81 M206.71 204.95 L207.15 205.21 L207.59 205.47 L208.02 205.73 L208.46 205.99 L208.90 206.25 L209.34 206.50 L209.78 206.76 L210.22 207.01 L210.66 207.26 L211.10 207.51 L211.53 207.76 L211.97 208.00 L212.15 208.10 M214.08 209.16 L214.52 209.40 L214.96 209.64 L215.39 209.88 L215.83 210.12 L216.27 210.35 L216.71 210.59 L217.15 210.82 L217.59 211.06 L218.03 211.29 L218.47 211.52 L218.90 211.75 L219.34 211.99 L219.61 212.12 M221.62 213.17 L222.06 213.39 L222.50 213.62 L222.94 213.84 L223.38 214.06 L223.82 214.29 L224.26 214.51 L224.70 214.73 L225.13 214.94 L225.57 215.16 L226.01 215.38 L226.45 215.60 L226.89 215.81 L227.15 215.94 M229.26 216.96 L229.70 217.17 L230.14 217.38 L230.57 217.58 L231.01 217.79 L231.45 218.00 L231.89 218.20 L232.33 218.41 L232.77 218.61 L233.21 218.81 L233.65 219.01 L234.08 219.22 L234.52 219.41 L234.87 219.57 M236.98 220.52 L237.42 220.71 L237.86 220.90 L238.30 221.10 L238.74 221.29 L239.17 221.48 L239.61 221.67 L240.05 221.85 L240.49 222.04 L240.93 222.23 L241.37 222.41 L241.81 222.60 L242.25 222.78 L242.68 222.96 M244.79 223.83 L245.23 224.01 L245.67 224.18 L246.11 224.36 L246.54 224.53 L246.98 224.71 L247.42 224.88 L247.86 225.05 L248.30 225.22 L248.74 225.39 L249.18 225.56 L249.62 225.73 L250.05 225.89 L250.49 226.06 L250.58 226.09 M252.69 226.88 L253.13 227.04 L253.56 227.20 L254.00 227.36 L254.44 227.51 L254.88 227.67 L255.32 227.82 L255.76 227.98 L256.20 228.13 L256.64 228.29 L257.07 228.44 L257.51 228.59 L257.95 228.74 L258.39 228.89 L258.57 228.95 M260.76 229.68 L261.20 229.82 L261.64 229.96 L262.08 230.10 L262.51 230.24 L262.95 230.38 L263.39 230.52 L263.83 230.66 L264.27 230.80 L264.71 230.93 L265.15 231.07 L265.59 231.20 L266.02 231.34 L266.46 231.47 L266.64 231.52 M268.83 232.17 L269.27 232.30 L269.71 232.43 L270.15 232.55 L270.59 232.68 L271.03 232.80 L271.46 232.92 L271.90 233.05 L272.34 233.17 L272.78 233.29 L273.22 233.41 L273.66 233.53 L274.10 233.65 L274.54 233.77 L274.89 233.86 M277.08 234.44 L277.52 234.56 L277.96 234.67 L278.40 234.78 L278.84 234.89 L279.27 235.00 L279.71 235.11 L280.15 235.22 L280.59 235.33 L281.03 235.44 L281.47 235.55 L281.91 235.65 L282.35 235.76 L282.78 235.87 L283.05 235.93 M285.33 236.47 L285.77 236.57 L286.21 236.67 L286.65 236.77 L287.08 236.87 L287.52 236.97 L287.96 237.07 L288.40 237.17 L288.84 237.26 L289.28 237.36 L289.72 237.46 L290.16 237.55 L290.59 237.65 L291.03 237.74 L291.38 237.82 M293.58 238.28 L294.02 238.37 L294.45 238.47 L294.89 238.56 L295.33 238.65 L295.77 238.74 L296.21 238.82 L296.65 238.91 L297.09 239.00 L297.53 239.09 L297.96 239.18 L298.40 239.26 L298.84 239.35 L299.28 239.44 L299.72 239.52 M301.91 239.94 L302.35 240.03 L302.79 240.11 L303.23 240.19 L303.67 240.27 L304.11 240.35 L304.55 240.44 L304.98 240.52 L305.42 240.60 L305.86 240.68 L306.30 240.76 L306.74 240.84 L307.18 240.92 L307.62 241.00 L308.06 241.07 M310.34 241.48 L310.78 241.55 L311.21 241.63 L311.65 241.70 L312.09 241.78 L312.53 241.85 L312.97 241.93 L313.41 242.00 L313.85 242.08 L314.29 242.15 L314.72 242.22 L315.16 242.30 L315.60 242.37 L316.04 242.44 L316.48 242.51 M318.67 242.87 L319.11 242.94 L319.55 243.01 L319.99 243.08 L320.43 243.15 L320.87 243.22 L321.31 243.28 L321.74 243.35 L322.18 243.42 L322.62 243.49 L323.06 243.55 L323.50 243.62 L323.94 243.69 L324.38 243.75 L324.82 243.82 M327.10 244.15 L327.54 244.22 L327.97 244.28 L328.41 244.34 L328.85 244.41 L329.29 244.47 L329.73 244.53 L330.17 244.59 L330.61 244.65 L331.05 244.71 L331.48 244.77 L331.92 244.83 L332.36 244.89 L332.80 244.95 L333.24 245.01 M335.52 245.32 L335.96 245.37 L336.40 245.43 L336.84 245.49 L337.28 245.54 L337.71 245.60 L338.15 245.65 L338.59 245.71 L339.03 245.76 L339.47 245.82 L339.91 245.87 L340.35 245.93 L340.79 245.98 L341.22 246.03 L341.66 246.09 M343.94 246.36 L344.38 246.41 L344.82 246.46 L345.26 246.51 L345.70 246.56 L346.14 246.61 L346.58 246.66 L347.02 246.71 L347.45 246.76 L347.89 246.81 L348.33 246.85 L348.77 246.90 L349.21 246.95 L349.65 247.00 L350.09 247.04 M352.37 247.28 L352.81 247.33 L353.25 247.37 L353.68 247.42 L354.12 247.46 L354.56 247.50 L355.00 247.55 L355.44 247.59 L355.88 247.63 L356.32 247.68 L356.75 247.72 L357.19 247.76 L357.63 247.80 L358.07 247.84 L358.51 247.88 L358.60 247.89 M360.88 248.10 L361.32 248.14 L361.76 248.18 L362.20 248.22 L362.63 248.25 L363.07 248.29 L363.51 248.33 L363.95 248.37 L364.39 248.40 L364.83 248.44 L365.27 248.48 L365.71 248.51 L366.14 248.55 L366.58 248.58 L367.02 248.62 M369.30 248.80 L369.74 248.83 L370.18 248.86 L370.62 248.90 L371.06 248.93 L371.50 248.96 L371.94 248.99 L372.37 249.02 L372.81 249.05 L373.25 249.08 L373.69 249.12 L374.13 249.15 L374.57 249.18 L375.01 249.21 L375.45 249.23 L375.53 249.24 M377.81 249.39 L378.25 249.42 L378.69 249.44 L379.13 249.47 L379.57 249.50 L380.01 249.52 L380.45 249.55 L380.89 249.57 L381.32 249.60 L381.76 249.62 L382.20 249.65 L382.64 249.67 L383.08 249.70 L383.52 249.72 L383.96 249.75 L384.04 249.75 M386.33 249.87 L386.76 249.89 L387.20 249.91 L387.64 249.93 L388.08 249.96 L388.52 249.98 L388.96 250.00 L389.40 250.02 L389.84 250.04 L390.27 250.06 L390.71 250.08 L391.15 250.09 L391.59 250.11 L392.03 250.13 L392.47 250.15 M394.75 250.24 L395.10 250.25 L395.45 250.27 L395.80 250.28 L396.15 250.29 L396.50 250.30 L396.86 250.32 L397.21 250.33 L397.56 250.34 L397.91 250.35 L398.26 250.36 L398.61 250.37 L398.96 250.39 L399.31 250.40 L399.40 250.40" stroke="#0000ff"/>
<path d="M48.50 232.40 L49.00 230.40 L49.50 228.44 L50.01 226.53 L50.51 224.65 L51.01 222.82 L51.51 221.03 L52.01 219.28 L52.52 217.56 L53.02 215.89 L53.52 214.26 L54.02 212.66 L54.52 211.10 L55.03 209.58 L55.53 208.10 L56.03 206.65 L56.53 205.24 L57.03 203.86 L57.54 202.52 L58.04 201.22 L58.54 199.94 L59.04 198.70 L59.54 197.50 L60.05 196.33 L60.55 195.18 L61.05 194.07 L61.55 192.99 L62.05 191.94 L62.56 190.92 L63.06 189.93 L63.56 188.96 L64.06 188.02 L64.56 187.11 L65.07 186.22 L65.57 185.35 L66.07 184.51 L66.57 183.68 L67.07 182.88 L67.58 182.10 L68.08 181.34 L68.58 180.59 L69.08 179.87 L69.58 179.16 L70.09 178.46 L70.59 177.79 L71.09 177.12 L71.59 176.47 L72.09 175.83 L72.60 175.21 L73.10 174.60 L73.60 174.01 L74.10 173.43 L74.60 172.86 L75.11 172.30 L75.61 171.76 L76.11 171.24 L76.61 170.72 L77.11 170.22 L77.62 169.74 L78.12 169.26 L78.62 168.80 L79.12 168.36 L79.62 167.93 L80.13 167.51 L80.63 167.10 L81.13 166.71 L81.63 166.33 L82.13 165.96 L82.64 165.61 L83.14 165.27 L83.64 164.94 L84.14 164.63 L84.64 164.33 L85.15 164.04 L85.65 163.76 L86.15 163.50 L86.65 163.25 L87.15 163.01 L87.66 162.79 L88.16 162.58 L88.66 162.38 L89.16 162.20 L89.66 162.02 L90.17 161.86 L90.67 161.72 L91.17 161.58 L91.67 161.46 L92.17 161.35 L92.68 161.25 L93.18 161.17 L93.68 161.09 L94.18 161.03 L94.68 160.98 L95.19 160.95 L95.69 160.93 L96.19 160.91 L96.69 160.91 L97.19 160.93 L97.70 160.95 L98.20 160.99 L98.70 161.04 L99.20 161.10 L99.70 161.17 L100.21 161.25 L100.71 161.34 L101.21 161.45 L101.71 161.56 L102.21 161.69 L102.72 161.83 L103.22 161.97 L103.72 162.13 L104.22 162.30 L104.72 162.47 L105.23 162.66 L105.73 162.85 L106.23 163.06 L106.73 163.27 L107.23 163.50 L107.74 163.73 L108.24 163.97 L108.74 164.22 L109.24 164.48 L109.74 164.75 L110.25 165.02 L110.75 165.30 L111.25 165.60 L111.75 165.89 L112.25 166.20 L112.76 166.51 L113.26 166.84 L113.76 167.16 L114.26 167.50 L114.76 167.84 L115.27 168.19 L115.77 168.55 L116.27 168.91 L116.77 169.27 L117.27 169.65 L117.78 170.03 L118.28 170.42 L118.78 170.81 L119.28 171.20 L119.78 171.61 L120.29 172.01 L120.79 172.43 L121.29 172.84 L121.79 173.27 L122.29 173.69 L122.80 174.12 L123.30 174.56 L123.80 175.00 L124.30 175.44 L124.80 175.89 L125.31 176.34 L125.81 176.80 L126.31 177.26 L126.81 177.72 L127.31 178.18 L127.82 178.65 L128.32 179.12 L128.82 179.59 L129.32 180.07 L129.82 180.55 L130.33 181.03 L130.83 181.51 L131.33 181.99 L131.83 182.48 L132.33 182.97 L132.84 183.46 L133.34 183.95 L133.84 184.44 L134.34 184.93 L134.84 185.43 L135.35 185.92 L135.85 186.41 L136.35 186.91 L136.85 187.40 L137.35 187.90 L137.86 188.40 L138.36 188.89 L138.86 189.39 L139.36 189.88 L139.86 190.37 L140.37 190.87 L140.87 191.36 L141.37 191.85 L141.87 192.34 L142.37 192.83 L142.88 193.31 L143.38 193.80 L143.88 194.28 L144.38 194.76 L144.88 195.24 L145.39 195.72 L145.89 196.19 L146.39 196.67 L146.89 197.14 L147.39 197.60 L147.90 198.07 L148.40 198.53 L148.90 198.99 L149.40 199.45 L149.90 199.90 L150.41 200.36 L150.91 200.81 L151.41 201.25 L151.91 201.70 L152.41 202.14 L152.92 202.58 L153.42 203.02 L153.92 203.46 L154.42 203.89 L154.92 204.33 L155.43 204.75 L155.93 205.18 L156.43 205.61 L156.93 206.03 L157.43 206.45 L157.94 206.87 L158.44 207.28 L158.94 207.70 L159.44 208.11 L159.94 208.51 L160.45 208.92 L160.95 209.33 L161.45 209.73 L161.95 210.13 L162.45 210.52 L162.96 210.92 L163.46 211.31 L163.96 211.70 L164.46 212.09 L164.96 212.48 L165.47 212.86 L165.97 213.24 L166.47 213.62 L166.97 214.00 L167.47 214.37 L167.98 214.74 L168.48 215.12 L168.98 215.48 L169.48 215.85 L169.98 216.21 L170.49 216.57 L170.99 216.93 L171.49 217.29 L171.99 217.65 L172.49 218.00 L173.00 218.35 L173.50 218.70 L174.00 219.04 L174.50 219.39 L175.00 219.73 L175.51 220.07 L176.01 220.41 L176.51 220.74 L177.01 221.08 L177.51 221.41 L178.02 221.74 L178.52 222.06 L179.02 222.39 L179.52 222.71 L180.02 223.03 L180.53 223.35 L181.03 223.67 L181.53 223.98 L182.03 224.29 L182.53 224.60 L183.04 224.91 L183.54 225.22 L184.04 225.52 L184.54 225.82 L185.04 226.12 L185.55 226.42 L186.05 226.72 L186.55 227.01 L187.05 227.30 L187.55 227.59 L188.06 227.88 L188.56 228.16 L189.06 228.45 L189.56 228.73 L190.06 229.01 L190.57 229.28 L191.07 229.56 L191.57 229.83 L192.07 230.10 L192.57 230.37 L193.08 230.64 L193.58 230.90 L194.08 231.17 L194.58 231.43 L195.08 231.69 L195.59 231.95 L196.09 232.20 L196.59 232.45 L197.09 232.71 L197.59 232.95 L198.10 233.20 L198.60 233.45 L199.10 233.69 L199.60 233.93 L200.10 234.17 L200.61 234.40 L201.11 234.64 L201.61 234.87 L202.11 235.10 L202.61 235.33 L203.12 235.55 L203.62 235.77 L204.12 235.99 L204.62 236.21 L205.12 236.43 L205.63 236.64 L206.13 236.85 L206.63 237.06 L207.13 237.26 L207.63 237.47 L208.14 237.67 L208.64 237.86 L209.14 238.06 L209.64 238.25 L210.14 238.44 L210.65 238.63 L211.15 238.81 L211.65 239.00 L212.15 239.18 L212.65 239.35 L213.16 239.53 L213.66 239.70 L214.16 239.87 L214.66 240.03 L215.16 240.19 L215.67 240.35 L216.17 240.51 L216.67 240.66 L217.17 240.82 L217.67 240.96 L218.18 241.11 L218.68 241.25 L219.18 241.39 L219.68 241.53 L220.18 241.66 L220.69 241.79 L221.19 241.92 L221.69 242.04 L222.19 242.16 L222.69 242.28 L223.20 242.39 L223.70 242.50 L224.20 242.61 L224.70 242.71 L225.21 242.81 L225.71 242.91 L226.21 243.01 L226.71 243.10 L227.21 243.19 L227.72 243.27 L228.22 243.35 L228.72 243.43 L229.22 243.50 L229.72 243.57 L230.23 243.64 L230.73 243.70 L231.23 243.76 L231.73 243.82 L232.23 243.87 L232.74 243.92 L233.24 243.97 L233.74 244.01 L234.24 244.05 L234.74 244.08 L235.25 244.11 L235.75 244.14 L236.25 244.16 L236.75 244.18 L237.25 244.20 L237.76 244.21 L238.26 244.22 L238.76 244.22 L239.26 244.23 L239.76 244.22 L240.27 244.22 L240.77 244.21 L241.27 244.20 L241.77 244.19 L242.27 244.18 L242.78 244.16 L243.28 244.14 L243.78 244.11 L244.28 244.09 L244.78 244.06 L245.29 244.03 L245.79 244.00 L246.29 243.96 L246.79 243.92 L247.29 243.88 L247.80 243.84 L248.30 243.80 L248.80 243.75 L249.30 243.71 L249.80 243.66 L250.31 243.61 L250.81 243.56 L251.31 243.50 L251.81 243.45 L252.31 243.39 L252.82 243.34 L253.32 243.28 L253.82 243.22 L254.32 243.16 L254.82 243.10 L255.33 243.04 L255.83 242.97 L256.33 242.91 L256.83 242.85 L257.33 242.78 L257.84 242.72 L258.34 242.65 L258.84 242.59 L259.34 242.52 L259.84 242.45 L260.35 242.39 L260.85 242.32 L261.35 242.26 L261.85 242.19 L262.35 242.12 L262.86 242.06 L263.36 241.99 L263.86 241.93 L264.36 241.87 L264.86 241.80 L265.37 241.74 L265.87 241.68 L266.37 241.62 L266.87 241.56 L267.37 241.50 L267.88 241.44 L268.38 241.38 L268.88 241.32 L269.38 241.27 L269.88 241.22 L270.39 241.16 L270.89 241.11 L271.39 241.06 L271.89 241.02 L272.39 240.97 L272.90 240.93 L273.40 240.89 L273.90 240.85 L274.40 240.81 L274.90 240.77 L275.41 240.74 L275.91 240.71 L276.41 240.68 L276.91 240.65 L277.41 240.62 L277.92 240.60 L278.42 240.58 L278.92 240.56 L279.42 240.54 L279.92 240.53 L280.43 240.52 L280.93 240.51 L281.43 240.50 L281.93 240.49 L282.43 240.48 L282.94 240.48 L283.44 240.48 L283.94 240.48 L284.44 240.48 L284.94 240.48 L285.45 240.49 L285.95 240.50 L286.45 240.50 L286.95 240.52 L287.45 240.53 L287.96 240.54 L288.46 240.56 L288.96 240.57 L289.46 240.59 L289.96 240.61 L290.47 240.63 L290.97 240.66 L291.47 240.68 L291.97 240.71 L292.47 240.73 L292.98 240.76 L293.48 240.79 L293.98 240.82 L294.48 240.86 L294.98 240.89 L295.49 240.93 L295.99 240.96 L296.49 241.00 L296.99 241.04 L297.49 241.08 L298.00 241.12 L298.50 241.16 L299.00 241.21 L299.50 241.25 L300.00 241.30 L300.51 241.34 L301.01 241.39 L301.51 241.44 L302.01 241.49 L302.51 241.54 L303.02 241.59 L303.52 241.64 L304.02 241.70 L304.52 241.75 L305.02 241.81 L305.53 241.86 L306.03 241.92 L306.53 241.98 L307.03 242.04 L307.53 242.10 L308.04 242.16 L308.54 242.22 L309.04 242.28 L309.54 242.34 L310.04 242.40 L310.55 242.46 L311.05 242.53 L311.55 242.59 L312.05 242.66 L312.55 242.72 L313.06 242.79 L313.56 242.85 L314.06 242.92 L314.56 242.99 L315.06 243.05 L315.57 243.12 L316.07 243.19 L316.57 243.26 L317.07 243.33 L317.57 243.39 L318.08 243.46 L318.58 243.53 L319.08 243.60 L319.58 243.67 L320.08 243.74 L320.59 243.81 L321.09 243.88 L321.59 243.95 L322.09 244.02 L322.59 244.09 L323.10 244.16 L323.60 244.23 L324.10 244.30 L324.60 244.37 L325.10 244.44 L325.61 244.51 L326.11 244.58 L326.61 244.65 L327.11 244.72 L327.61 244.79 L328.12 244.86 L328.62 244.93 L329.12 245.00 L329.62 245.07 L330.12 245.13 L330.63 245.20 L331.13 245.26 L331.63 245.33 L332.13 245.39 L332.63 245.44 L333.14 245.50 L333.64 245.55 L334.14 245.61 L334.64 245.66 L335.14 245.71 L335.65 245.76 L336.15 245.80 L336.65 245.85 L337.15 245.89 L337.65 245.94 L338.16 245.98 L338.66 246.02 L339.16 246.06 L339.66 246.10 L340.16 246.15 L340.67 246.19 L341.17 246.23 L341.67 246.27 L342.17 246.31 L342.67 246.35 L343.18 246.39 L343.68 246.43 L344.18 246.48 L344.68 246.52 L345.18 246.56 L345.69 246.61 L346.19 246.65 L346.69 246.70 L347.19 246.75 L347.69 246.80 L348.20 246.85 L348.70 246.90 L349.20 246.95 L349.70 247.00 L350.20 247.06 L350.71 247.11 L351.21 247.16 L351.71 247.21 L352.21 247.27 L352.71 247.32 L353.22 247.37 L353.72 247.42 L354.22 247.47 L354.72 247.52 L355.22 247.57 L355.73 247.62 L356.23 247.67 L356.73 247.72 L357.23 247.76 L357.73 247.81 L358.24 247.86 L358.74 247.91 L359.24 247.95 L359.74 248.00 L360.24 248.04 L360.75 248.09 L361.25 248.13 L361.75 248.18 L362.25 248.22 L362.75 248.27 L363.26 248.31 L363.76 248.35 L364.26 248.39 L364.76 248.44 L365.26 248.48 L365.77 248.52 L366.27 248.56 L366.77 248.60 L367.27 248.64 L367.77 248.68 L368.28 248.72 L368.78 248.76 L369.28 248.79 L369.78 248.83 L370.28 248.87 L370.79 248.91 L371.29 248.94 L371.79 248.98 L372.29 249.02 L372.79 249.05 L373.30 249.09 L373.80 249.12 L374.30 249.16 L374.80 249.19 L375.30 249.23 L375.81 249.26 L376.31 249.29 L376.81 249.32 L377.31 249.36 L377.81 249.39 L378.32 249.42 L378.82 249.45 L379.32 249.48 L379.82 249.51 L380.32 249.54 L380.83 249.57 L381.33 249.60 L381.83 249.63 L382.33 249.66 L382.83 249.69 L383.34 249.71 L383.84 249.74 L384.34 249.77 L384.84 249.79 L385.34 249.82 L385.85 249.85 L386.35 249.87 L386.85 249.90 L387.35 249.92 L387.85 249.94 L388.36 249.97 L388.86 249.99 L389.36 250.01 L389.86 250.04 L390.36 250.06 L390.87 250.08 L391.37 250.10 L391.87 250.12 L392.37 250.15 L392.87 250.17 L393.38 250.19 L393.88 250.21 L394.38 250.23 L394.88 250.24 L395.38 250.26 L395.89 250.28 L396.39 250.30 L396.89 250.32 L397.39 250.33 L397.89 250.35 L398.40 250.37 L398.90 250.38 L399.40 250.40" stroke="#ff0000"/>
</g>
<g style="will-change:transform;opacity:0.999">
<g font-size="15px"><text x="87.39" y="268.4" text-anchor="middle">10</text><text x="165.37" y="268.4" text-anchor="middle">20</text><text x="243.34" y="268.4" text-anchor="middle">30</text><text x="321.32" y="268.4" text-anchor="middle">40</text><text x="399.30" y="268.4" text-anchor="middle">50</text><text x="45.3" y="257.60" text-anchor="end">0.0</text><text x="45.3" y="208.40" text-anchor="end">0.5</text><text x="45.3" y="159.20" text-anchor="end">1.0</text><text x="45.3" y="110.00" text-anchor="end">1.5</text><text x="45.3" y="60.80" text-anchor="end">2.0</text><text x="45.3" y="11.60" text-anchor="end">2.5</text></g>
<!-- axis labels -->
<text x="188.80" y="291.60" font-size="18px" class="i">E</text><text x="200.20" y="294.40" font-size="13.5px" class="i">&#957;</text><text x="211.00" y="291.60" font-size="17.5px">[MeV]</text>
<g transform="translate(15.6 0) rotate(-90)" font-size="18px" stroke="#000" stroke-width="0.08"><text x="-216.80" y="0.00">dN</text><text x="-194.80" y="2.50" font-size="11.5px">HK</text><text x="-170.40" y="0.00">d</text><text x="-160.20" y="0.00">E</text><text x="-150.10" y="2.60" font-size="13.5px" class="i">&#957;</text><text x="-144.00" y="0.00">[yr</text><text x="-121.40" y="-6.80" font-size="12.5px">&#8722;</text><text x="-113.80" y="-6.80" font-size="12.5px">1</text><text x="-102.70" y="0.00">MeV</text><text x="-64.60" y="-6.80" font-size="12.5px">&#8722;</text><text x="-57.00" y="-6.80" font-size="12.5px">1</text><text x="-50.90" y="0.00">]</text><path d="M-179.0 -0.7 L-170.4 -13.1" stroke="#000" stroke-width="1.1" fill="none"/></g>
<!-- annotations -->
<text stroke="#000" stroke-width="0.2" x="174.20" y="50.60" font-size="22px" class="i">&#957;</text><path d="M174.2 38.4 H185.6" stroke="#000" stroke-width="1.1" fill="none"/><text x="184.20" y="53.60" font-size="14.5px" class="i">e</text><text x="194.20" y="50.60" font-size="19px">,</text><text x="207.90" y="51.30" font-size="16.5px">IH</text><text x="177.00" y="78.60" font-size="14.5px" class="i">g</text><text x="184.40" y="80.80" font-size="10.5px" class="i">s</text><text x="193.80" y="78.60" font-size="14.5px">=</text><text x="207.30" y="78.60" font-size="14.5px">10</text><text x="222.50" y="73.90" font-size="10.5px">&#8722;4</text>
</g>
<!-- legend -->
<g fill="none" stroke-width="1.6">
<path d="M283.1 21.2 H318" stroke="#000" stroke-dasharray="2.45 1.12"/>
<path d="M283.1 44.8 H319.5" stroke="#ff0000"/>
<path d="M283.1 68.1 H318" stroke="#0000ff" stroke-dasharray="5.4 1.9"/>
<path d="M283.1 91.8 H316.6" stroke="#00aa00" stroke-dasharray="2.2 2.3 5 2.1"/>
</g>
<g style="will-change:transform;opacity:0.999">
<text x="326.60" y="25.60" font-size="14px">no&#8722;int.</text><text x="326.40" y="49.00" font-size="14px" class="i">m</text><text x="336.30" y="51.60" font-size="10px" class="i">&#981;</text><text x="344.40" y="49.00" font-size="14px">=</text><text x="358.00" y="49.00" font-size="14px">8</text><text x="368.00" y="49.00" font-size="14px">keV</text><text x="326.40" y="72.40" font-size="14px" class="i">m</text><text x="336.30" y="75.00" font-size="10px" class="i">&#981;</text><text x="344.40" y="72.40" font-size="14px">=</text><text x="358.00" y="72.40" font-size="14px">6</text><text x="368.00" y="72.40" font-size="14px">keV</text><text x="326.40" y="96.00" font-size="14px" class="i">m</text><text x="336.30" y="98.60" font-size="10px" class="i">&#981;</text><text x="344.40" y="96.00" font-size="14px">=</text><text x="358.00" y="96.00" font-size="14px">5</text><text x="368.00" y="96.00" font-size="14px">keV</text>
</g>
</svg>
</body></html>
